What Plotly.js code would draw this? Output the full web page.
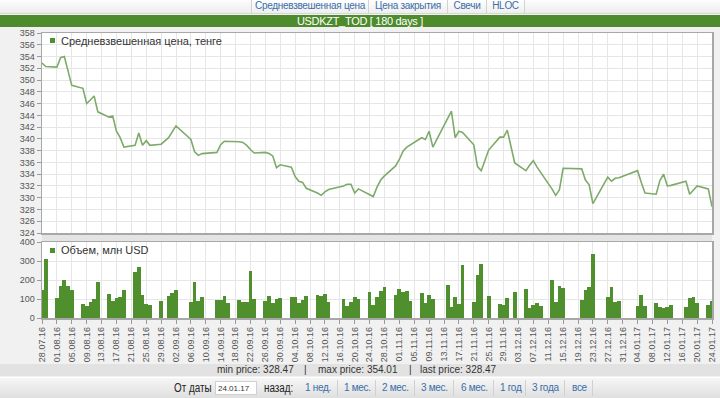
<!DOCTYPE html>
<html><head><meta charset="utf-8">
<script src="https://cdn.plot.ly/plotly-3.0.1.min.js"></script>
<style>
body{margin:0;width:720px;height:398px;overflow:hidden;background:#f1f1f1;font-family:"Liberation Sans",Arial,sans-serif;position:relative}
#chart{position:absolute;left:0;top:0;width:720px;height:398px;z-index:2}
.tabs{position:absolute;left:0;top:0;width:720px;height:13px;background:linear-gradient(#fdfdfd,#ececec);border-bottom:1px solid #d6d6d6;z-index:3}
.tab{position:absolute;top:0;height:13px;line-height:12px;font-size:10px;color:#3a6ea8;text-align:center;border-left:1px solid #d2d2d2;background:linear-gradient(#ffffff,#eeeeee);white-space:nowrap;overflow:hidden;letter-spacing:-0.3px}
.title{position:absolute;left:0;top:15px;width:720px;height:12px;background:#4e8b2d;color:#fff;font-size:11px;line-height:12px;text-align:center;letter-spacing:-0.3px;z-index:3;white-space:nowrap}
.strip{position:absolute;left:42px;top:234px;width:670px;height:6px;background:#e4e4e4;border-top:1px solid #cfcfcf;border-bottom:1px solid #cfcfcf;z-index:1}
.info{position:absolute;left:0;top:364px;width:720px;height:12px;background:#e2e2e2;font-size:10px;line-height:12px;color:#333;z-index:3;white-space:nowrap}
.info span{position:absolute;top:0}
.bottom{position:absolute;left:0;top:377px;width:720px;height:21px;background:linear-gradient(#f6f6f6,#dedede);border-top:1px solid #fff;z-index:3;white-space:nowrap}
.bottom .lbl{position:absolute;top:3px;font-size:12px;color:#222;line-height:14px;transform:scaleX(0.82);transform-origin:left center}
.bottom .inp{position:absolute;left:215px;top:3px;width:42px;height:14px;background:#fff;border:1px solid #cfcfcf;font-size:8px;line-height:14px;color:#333;padding-left:2px;box-sizing:border-box}
.bottom .lnk{position:absolute;top:3px;font-size:10px;color:#3a6ea8;line-height:14px;letter-spacing:-0.3px}
.bottom .sep{position:absolute;top:2px;width:1px;height:16px;background:#d0d0d0}
</style></head>
<body>
<div class="tabs">
  <div class="tab" style="left:251px;width:116px">Средневзвешенная цена</div>
  <div class="tab" style="left:368px;width:78px">Цена закрытия</div>
  <div class="tab" style="left:447px;width:38px">Свечи</div>
  <div class="tab" style="left:486px;width:37px;border-right:1px solid #d2d2d2">HLOC</div>
</div>
<div class="title">USDKZT_TOD [ 180 days ]</div>
<div class="strip"></div>
<div id="chart"></div>
<div class="info">
  <span style="left:217px">min price: 328.47</span>
  <span style="left:304px">|</span>
  <span style="left:318px">max price: 354.01</span>
  <span style="left:409px">|</span>
  <span style="left:420px">last price: 328.47</span>
</div>
<div class="bottom">
  <span class="lbl" style="left:174px">От даты</span>
  <div class="inp">24.01.17</div>
  <span class="lbl" style="left:264px">назад:</span>
  <span class="lnk" style="left:305px">1 нед.</span><div class="sep" style="left:337px"></div>
  <span class="lnk" style="left:344px">1 мес.</span><div class="sep" style="left:375px"></div>
  <span class="lnk" style="left:382px">2 мес.</span><div class="sep" style="left:414px"></div>
  <span class="lnk" style="left:421px">3 мес.</span><div class="sep" style="left:453px"></div>
  <span class="lnk" style="left:461px">6 мес.</span><div class="sep" style="left:493px"></div>
  <span class="lnk" style="left:500px">1 год</span><div class="sep" style="left:525px"></div>
  <span class="lnk" style="left:532px">3 года</span><div class="sep" style="left:564px"></div>
  <span class="lnk" style="left:572px">все</span><div class="sep" style="left:592px"></div>
</div>
<script>
const dates = [
'2016-07-28','2016-07-29',
'2016-08-01','2016-08-02','2016-08-03','2016-08-04','2016-08-05',
'2016-08-08','2016-08-09','2016-08-10','2016-08-11','2016-08-12',
'2016-08-15','2016-08-16','2016-08-17','2016-08-18','2016-08-19',
'2016-08-22','2016-08-23','2016-08-24','2016-08-25','2016-08-26',
'2016-08-29','2016-08-31','2016-09-01','2016-09-02',
'2016-09-06','2016-09-07','2016-09-08','2016-09-09',
'2016-09-13','2016-09-14','2016-09-15','2016-09-16',
'2016-09-19','2016-09-20','2016-09-21','2016-09-22','2016-09-23',
'2016-09-26','2016-09-27','2016-09-28','2016-09-29','2016-09-30',
'2016-10-03','2016-10-04','2016-10-05','2016-10-06','2016-10-07',
'2016-10-10','2016-10-11','2016-10-12','2016-10-13',
'2016-10-17','2016-10-18','2016-10-19','2016-10-20','2016-10-21',
'2016-10-24','2016-10-25','2016-10-26','2016-10-27','2016-10-28',
'2016-10-31','2016-11-01','2016-11-02','2016-11-03','2016-11-04',
'2016-11-07','2016-11-08','2016-11-09','2016-11-10',
'2016-11-14','2016-11-15','2016-11-16','2016-11-17','2016-11-18',
'2016-11-21','2016-11-22','2016-11-23','2016-11-25',
'2016-11-28','2016-11-29','2016-11-30','2016-12-02',
'2016-12-05','2016-12-06','2016-12-07','2016-12-08','2016-12-09',
'2016-12-12','2016-12-13','2016-12-14','2016-12-15',
'2016-12-20','2016-12-21','2016-12-22','2016-12-23',
'2016-12-27','2016-12-28','2016-12-29','2016-12-30',
'2017-01-04','2017-01-05','2017-01-06',
'2017-01-09','2017-01-10','2017-01-11','2017-01-12','2017-01-13',
'2017-01-17','2017-01-18','2017-01-19','2017-01-20',
'2017-01-23','2017-01-24'
];
const price = [
352.9, 352.3,
352.2, 353.8, 354.01, 351.6, 349.1,
348.6, 346.0, 346.6, 347.3, 344.6,
343.7, 343.9, 341.3, 340.2, 338.6,
338.9, 341.0, 338.9, 339.7, 338.9,
339.1, 340.2, 341.2, 342.2,
339.9, 337.8, 337.2, 337.5,
337.7, 339.0, 339.6, 339.6,
339.5, 339.4, 338.9, 338.2, 337.6,
337.7, 337.5, 337.1, 335.1, 335.6,
335.2, 333.6, 332.8, 332.6, 331.6,
330.8, 330.4, 331.0, 331.4,
332.0, 332.3, 332.3, 330.8, 331.5,
330.6, 330.2, 331.8, 333.0, 333.7,
335.4, 336.5, 337.9, 338.6, 339.0,
340.2, 339.9, 341.3, 338.6,
343.3, 344.7, 340.2, 341.3, 341.1,
339.0, 335.3, 334.6, 338.1,
340.3, 340.3, 341.5, 335.9,
334.6, 335.5, 336.3, 335.2, 334.3,
331.5, 330.4, 331.3, 335.0,
334.9, 333.0, 332.2, 329.0,
333.5, 332.8, 333.3, 333.4,
334.6, 332.6, 330.8,
330.6, 332.9, 334.0, 332.0, 332.1,
332.8, 330.6, 331.3, 332.0,
331.5, 328.47
];
const volume = [
145, 310,
105, 168, 200, 168, 145,
73, 65, 82, 100, 192,
125, 88, 105, 110, 145,
240, 268, 122, 75, 70,
92, 115, 130, 145,
82, 187, 90, 111,
96, 96, 115, 78,
93, 85, 85, 245, 98,
90, 118, 80, 98, 103,
112, 112, 80, 93, 118,
121, 118, 126, 84,
98, 65, 84, 112, 98,
137, 70, 110, 141, 165,
123, 151, 135, 141, 90,
132, 81, 121, 98,
175, 60, 108, 76, 279,
84, 227, 284, 118,
74, 70, 106, 135,
154, 52, 69, 78, 64,
198, 84, 170, 160,
93, 145, 165, 335,
112, 165, 82, 89,
64, 120, 63,
80, 58, 52, 60, 68,
56, 107, 112, 79,
67, 90
];
const priceName = 'Средневзвешенная цена, тенге';
const volumeName = 'Объем, млн USD';

const W = 720, H = 398;
const px = x => x / W, py = y => 1 - y / H;
const gridC = '#e6e6e6', lineC = '#a8a8a8';
const xRange = ['2016-07-28', '2017-01-24'];
const xCommon = {
  type: 'date', range: xRange, domain: [px(42), px(712)],
  tick0: '2016-07-28', dtick: 4 * 86400000,
  showgrid: true, gridcolor: gridC, gridwidth: 1,
  showline: true, mirror: true, linecolor: lineC, linewidth: 1.5,
  zeroline: false, fixedrange: true
};
const traces = [
  {x: dates, y: price, type: 'scatter', mode: 'lines', name: priceName,
   line: {color: '#7eaa6a', width: 1.6}, xaxis: 'x', yaxis: 'y', hoverinfo: 'none'},
  {x: dates, y: volume, type: 'bar', name: volumeName,
   marker: {color: '#4f8f2e', line: {width: 0}}, width: 86400000,
   xaxis: 'x2', yaxis: 'y2', hoverinfo: 'none'}
];
const layout = {
  width: W, height: H, margin: {l: 0, r: 0, t: 0, b: 0},
  paper_bgcolor: 'rgba(0,0,0,0)', plot_bgcolor: '#ffffff',
  showlegend: false, bargap: 0,
  font: {family: '"Liberation Sans", Arial, sans-serif', size: 9, color: '#555'},
  xaxis: Object.assign({}, xCommon, {anchor: 'y', showticklabels: false, ticks: ''}),
  xaxis2: Object.assign({}, xCommon, {anchor: 'y2', matches: 'x', ticks: 'outside', ticklen: 4,
    tickcolor: '#999', tickangle: -90, tickformat: '%d.%m.%y', tickfont: {size: 9, color: '#555'}}),
  yaxis: {domain: [py(233), py(33)], range: [324, 358], dtick: 2, tick0: 324,
    ticks: 'outside', ticklen: 4, tickcolor: '#999', showgrid: true, gridcolor: gridC,
    showline: true, mirror: true, linecolor: lineC, linewidth: 1.5, zeroline: false,
    tickfont: {size: 9, color: '#555'}, fixedrange: true},
  yaxis2: {domain: [py(318), py(242)], range: [0, 400], dtick: 100, tick0: 0,
    ticks: 'outside', ticklen: 4, tickcolor: '#999', showgrid: true, gridcolor: gridC,
    showline: true, mirror: true, linecolor: lineC, linewidth: 1.5, zeroline: false,
    tickfont: {size: 9, color: '#555'}, fixedrange: true},
  shapes: [
    {type: 'rect', xref: 'paper', yref: 'paper', x0: px(50), x1: px(55), y0: py(43), y1: py(38),
     fillcolor: '#4f8f2e', line: {width: 0}},
    {type: 'rect', xref: 'paper', yref: 'paper', x0: px(50), x1: px(55), y0: py(253), y1: py(248),
     fillcolor: '#4f8f2e', line: {width: 0}}
  ],
  annotations: [
    {xref: 'paper', yref: 'paper', x: px(59), y: py(41), xanchor: 'left', yanchor: 'middle',
     text: priceName, showarrow: false, font: {size: 11, color: '#333'}},
    {xref: 'paper', yref: 'paper', x: px(59), y: py(250), xanchor: 'left', yanchor: 'middle',
     text: volumeName, showarrow: false, font: {size: 11, color: '#333'}}
  ]
};
Plotly.newPlot('chart', traces, layout, {displayModeBar: false, staticPlot: true});
</script>
</body></html>
